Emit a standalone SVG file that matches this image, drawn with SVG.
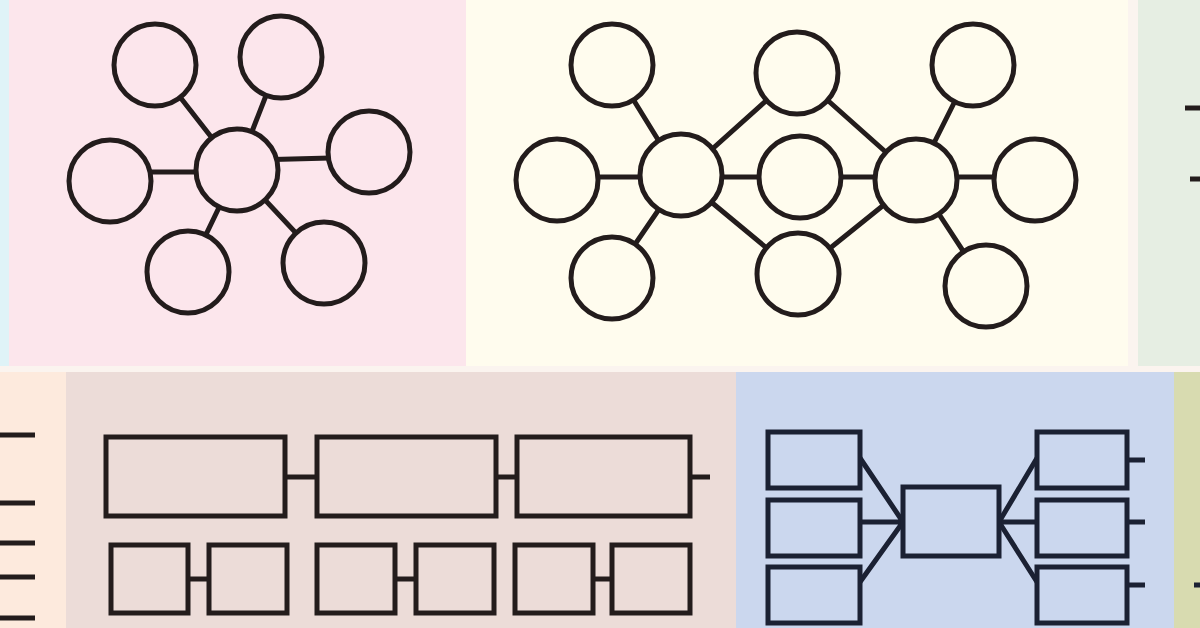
<svg xmlns="http://www.w3.org/2000/svg" width="1200" height="628" viewBox="0 0 1200 628">
<style>
.n{stroke:#231c1c;stroke-width:5;}
.c{stroke:#231c1c;stroke-width:5;fill:none;}
.pk{fill:#fce6ec;}
.cr{fill:#fffcee;}
.mv{fill:#ecdcd8;}
.bl{fill:#cbd7ee;stroke:#1b2133;stroke-width:5;}
.cb{stroke:#1b2133;stroke-width:5;fill:none;}
</style>
<rect width="1200" height="628" fill="#fbf4ef"/>
<g id="panels">
<rect x="0" y="0" width="9" height="366" fill="#dff3f7"/>
<rect x="9" y="0" width="457" height="366" fill="#fce6ec"/>
<rect x="466" y="0" width="662" height="366" fill="#fffcee"/>
<rect x="1138" y="0" width="62" height="366" fill="#e6eee3"/>
<rect x="0" y="372" width="66" height="256" fill="#fdeadd"/>
<rect x="66" y="372" width="670" height="256" fill="#ecdcd8"/>
<rect x="736" y="372" width="438" height="256" fill="#cbd7ee"/>
<rect x="1174" y="372" width="26" height="256" fill="#d8dbb0"/>
</g>
<g id="connectors">
<path class="c" d="M237 170L155 65M237 170L281 57M250 160L369 157M230 172L110 172M237 170L188 272M237 170L324 263"/>
<path class="c" d="M681 177L612 65M681 177L557 177M681 177L612 278M681 177L797 73M681 177L800 177M681 177L798 274M916 179L797 73M916 177L800 177M916 179L798 274M916 179L973 65M916 177L1035 177M916 179L986 286"/>
<path class="c" d="M285 477H317M496 477H517M690 477H710M188 579H209M395 579H416M593 579H612"/>
<path class="c" d="M0 435H35M0 503H35M0 543H35M0 577H35M0 618H35M1185 108H1200M1190 179H1200"/>
<path class="cb" d="M860 458L903 522M860 522H903M860 582L903 522M999 522L1037 458M999 522H1037M999 522L1037 582M1127 460H1145M1127 522H1145M1127 585H1145M1194 585H1200"/>
</g>
<g id="star">
<circle class="n pk" cx="237" cy="170" r="41"/>
<circle class="n pk" cx="155" cy="65" r="41"/>
<circle class="n pk" cx="281" cy="57" r="41"/>
<circle class="n pk" cx="369" cy="152" r="41"/>
<circle class="n pk" cx="110" cy="181" r="41"/>
<circle class="n pk" cx="188" cy="272" r="41"/>
<circle class="n pk" cx="324" cy="263" r="41"/>
</g>
<g id="network">
<circle class="n cr" cx="681" cy="175" r="41"/>
<circle class="n cr" cx="612" cy="65" r="41"/>
<circle class="n cr" cx="557" cy="180" r="41"/>
<circle class="n cr" cx="612" cy="278" r="41"/>
<circle class="n cr" cx="797" cy="73" r="41"/>
<circle class="n cr" cx="800" cy="177" r="41"/>
<circle class="n cr" cx="798" cy="274" r="41"/>
<circle class="n cr" cx="916" cy="180" r="41"/>
<circle class="n cr" cx="973" cy="65" r="41"/>
<circle class="n cr" cx="1035" cy="180" r="41"/>
<circle class="n cr" cx="986" cy="286" r="41"/>
</g>
<g id="chain">
<rect class="n mv" x="106" y="437" width="179" height="79"/>
<rect class="n mv" x="317" y="437" width="179" height="79"/>
<rect class="n mv" x="517" y="437" width="173" height="79"/>
<rect class="n mv" x="111" y="545" width="77" height="68"/>
<rect class="n mv" x="209" y="545" width="78" height="68"/>
<rect class="n mv" x="317" y="545" width="78" height="68"/>
<rect class="n mv" x="416" y="545" width="78" height="68"/>
<rect class="n mv" x="515" y="545" width="78" height="68"/>
<rect class="n mv" x="612" y="545" width="78" height="68"/>
</g>
<g id="funnel">
<rect class="bl" x="768" y="432" width="92" height="56"/>
<rect class="bl" x="768" y="500" width="92" height="56"/>
<rect class="bl" x="768" y="567" width="92" height="56"/>
<rect class="bl" x="903" y="487" width="96" height="69"/>
<rect class="bl" x="1037" y="432" width="90" height="56"/>
<rect class="bl" x="1037" y="500" width="90" height="56"/>
<rect class="bl" x="1037" y="567" width="90" height="56"/>
</g>
</svg>
